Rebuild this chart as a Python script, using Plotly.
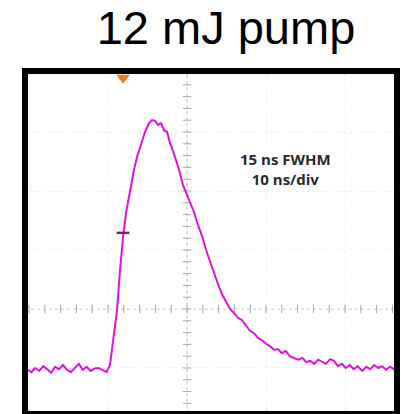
import numpy as np
import plotly.graph_objects as go

# Scope trace: time in ns, amplitude in vertical divisions
time_ns = [-20.6, -20.2, -19.7, -19.2, -18.7, -18.2, -17.7, -17.2, -16.7, -16.2,
           -15.7, -15.2, -14.7, -14.2, -13.7, -13.2, -12.7, -12.2, -11.7, -11.2,
           -10.7, -10.2, -9.75, -9.37, -8.86, -8.48, -8.10, -7.72, -7.22, -6.71,
           -6.33, -5.82, -5.32, -4.81, -4.43, -4.05, -3.67, -3.29, -2.91, -2.53,
           -2.15, -1.77, -1.39, -1.01, -0.51, 0.0, 0.38, 0.89, 1.39, 1.90,
           2.41, 2.91, 3.42, 3.92, 4.43, 4.94, 5.44, 5.95, 6.46, 6.96,
           7.47, 7.97, 8.48, 8.99, 9.49, 10.0, 10.5, 11.0, 11.5, 12.0,
           12.5, 13.0, 13.5, 14.1, 14.6, 15.1, 15.6, 16.1, 16.6, 17.1,
           17.6, 18.1, 18.6, 19.1, 19.6, 20.1, 20.6, 21.1, 21.6, 22.2,
           22.7, 23.2, 23.7, 24.2, 24.7, 25.2, 25.7, 26.2, 26.6]
amp_div = [-1.02, -1.03, -1.07, -1.00, -1.05, -0.97, -1.02, -1.08, -0.98, -1.02,
           -0.95, -1.03, -1.07, -1.00, -0.93, -1.03, -0.98, -1.05, -1.01, -1.00,
           -1.03, -1.07, -0.95, -0.53, -0.02, 0.66, 1.22, 1.63, 2.02, 2.36,
           2.58, 2.81, 3.00, 3.15, 3.20, 3.19, 3.12, 3.15, 3.03, 3.00,
           2.81, 2.68, 2.53, 2.36, 2.10, 1.93, 1.81, 1.64, 1.42, 1.24,
           1.00, 0.80, 0.59, 0.42, 0.25, 0.12, 0.00, -0.07, -0.15, -0.19,
           -0.29, -0.37, -0.41, -0.49, -0.53, -0.59, -0.63, -0.69, -0.68, -0.75,
           -0.71, -0.80, -0.83, -0.86, -0.83, -0.90, -0.88, -0.93, -0.86, -0.90,
           -0.93, -0.85, -0.88, -0.97, -0.93, -1.00, -0.95, -1.02, -0.97, -1.05,
           -0.98, -1.02, -0.95, -1.00, -0.97, -1.03, -0.98, -1.02, -1.00]

cursor_t, cursor_v = -8.1, 1.29      # level cursor on the rising edge
trigger_t = -8.1                     # trigger position marker
x_range = [-20.51, 26.58]
y_range = [-1.78, 4.034]

fig = go.Figure()

# graticule centre-line tick marks
minor_t = np.arange(-20, 27, 2)
minor_v = np.arange(-1.6, 4.01, 0.2)
fig.add_trace(go.Scatter(x=minor_t, y=[0] * len(minor_t), mode="markers",
                         marker=dict(symbol="line-ns", size=6, line=dict(color="#a8a8a8", width=1)),
                         hoverinfo="skip"))
fig.add_trace(go.Scatter(x=[0] * len(minor_v), y=minor_v, mode="markers",
                         marker=dict(symbol="line-ew", size=6, line=dict(color="#a8a8a8", width=1)),
                         hoverinfo="skip"))

# pulse
fig.add_trace(go.Scatter(x=time_ns, y=amp_div, mode="lines",
                         line=dict(color="#e010e0", width=2), hoverinfo="skip"))

# cursor and trigger markers
fig.add_trace(go.Scatter(x=[cursor_t], y=[cursor_v], mode="markers",
                         marker=dict(symbol="line-ew", size=9, line=dict(color="#7a1f6a", width=2.5)),
                         hoverinfo="skip"))
fig.add_trace(go.Scatter(x=[trigger_t], y=[3.92], mode="markers", cliponaxis=False,
                         marker=dict(symbol="triangle-down", size=12, color="#f07d1a"),
                         hoverinfo="skip"))

fig.add_shape(type="line", xref="x", yref="paper", x0=0, x1=0, y0=0, y1=1,
              line=dict(color="#b8b8b8", width=1, dash="dot"), layer="below")
fig.add_shape(type="line", xref="paper", yref="y", x0=0, x1=1, y0=0, y1=0,
              line=dict(color="#b8b8b8", width=1, dash="dot"), layer="below")

# screen frame
fig.add_shape(type="rect", xref="paper", yref="paper", x0=0, x1=1, y0=0, y1=1,
              line=dict(color="black", width=6), layer="above")

fig.add_annotation(x=12.5, y=2.37, xref="x", yref="y",
                   text="<b>15 ns FWHM<br>10 ns/div</b>", showarrow=False,
                   font=dict(family="Open Sans", size=15, color="#2a2a2a"),
                   bgcolor="white", align="center")

fig.update_layout(
    width=405, height=414,
    margin=dict(l=25, r=8, t=71, b=0),
    paper_bgcolor="white", plot_bgcolor="white",
    showlegend=False,
    title=dict(text="12 mJ pump", x=226 / 405, xanchor="center",
               y=1 - 28 / 414, yanchor="middle",
               font=dict(family="Liberation Sans, Arial", size=47, color="black")),
    xaxis=dict(range=x_range, showgrid=True, gridcolor="#efefef", griddash="dot",
               dtick=10, tick0=0, zeroline=False, showticklabels=False,
               ticks="inside", ticklen=4, tickcolor="#c0c0c0", mirror="ticks",
               minor=dict(dtick=2, ticks="inside", ticklen=3, tickcolor="#d0d0d0"),
               fixedrange=True),
    yaxis=dict(range=y_range, showgrid=True, gridcolor="#efefef", griddash="dot",
               dtick=1, tick0=0, zeroline=False, showticklabels=False,
               fixedrange=True),
)

fig.write_html("out.html")
